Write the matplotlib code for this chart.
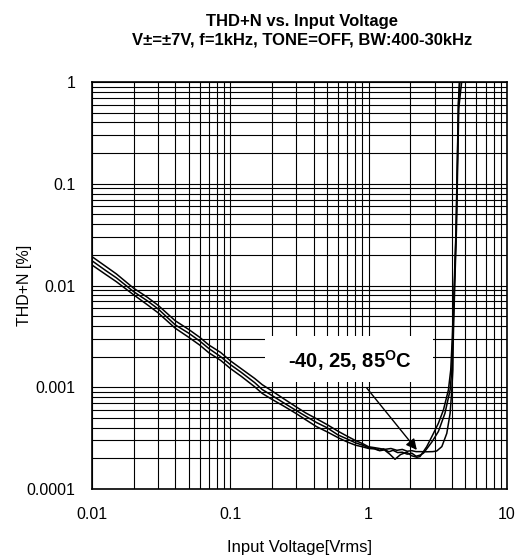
import matplotlib
matplotlib.use("Agg")
import matplotlib.pyplot as plt
from matplotlib.patches import Rectangle
from matplotlib.ticker import LogLocator, FixedLocator, FixedFormatter, NullFormatter

plt.rcParams['font.family'] = ['Liberation Sans', 'DejaVu Sans']
plt.rcParams['mathtext.fontset'] = 'custom'
plt.rcParams['mathtext.rm'] = 'Liberation Sans'
plt.rcParams['mathtext.bf'] = 'Liberation Sans:bold'

title = "THD+N vs. Input Voltage\nV±=±7V, f=1kHz, TONE=OFF, BW:400-30kHz"
xlabel = "Input Voltage[Vrms]"
ylabel = "THD+N [%]"
annotation = r"-40, 25, 85$^{\mathbf{O}}$C"

x_ticks = [0.01, 0.1, 1, 10]
x_ticklabels = ["0.01", "0.1", "1", "10"]
y_ticks = [0.0001, 0.001, 0.01, 0.1, 1]
y_ticklabels = ["0.0001", "0.001", "0.01", "0.1", "1"]

x_left = [0.01, 0.0125, 0.015, 0.02, 0.025, 0.03, 0.04, 0.05, 0.06, 0.07, 0.085,
          0.1, 0.12, 0.15, 0.17, 0.2, 0.24, 0.3, 0.35, 0.42, 0.5, 0.6, 0.7, 0.8, 0.9, 1.0]

# series A (upper trace at low level, rises last)
xA = x_left + [1.1, 1.2, 1.3, 1.45, 1.6, 1.75, 1.9, 2.05, 2.2, 2.35, 2.6, 2.9, 3.1,
               3.38, 3.67, 3.88, 3.99, 4.06, 4.09, 4.19, 4.31, 4.48, 4.8]
yA = [0.0192, 0.0155, 0.0130, 0.0094, 0.0077, 0.0064, 0.0045, 0.0037, 0.0031, 0.0026, 0.0022,
      0.00182, 0.00152, 0.00122, 0.00106, 0.00092, 0.00078, 0.00064, 0.00056, 0.00049, 0.00043,
      0.00037, 0.00033, 0.00030, 0.00028, 0.00026,
      0.000255, 0.00025, 0.000245, 0.00025, 0.00024, 0.000245, 0.000235, 0.000238, 0.000233,
      0.000233, 0.000232, 0.000233, 0.000236, 0.000261, 0.000352, 0.000555, 0.00094, 0.00148,
      0.003, 0.01, 0.035, 0.55, 1.3]

# series B (middle trace)
xB = x_left + [1.1, 1.2, 1.28, 1.4, 1.5, 1.62, 1.75, 1.9, 2.05, 2.2, 2.35, 2.49, 2.86,
               3.19, 3.56, 3.88, 3.99, 4.05, 4.17, 4.29, 4.46, 4.6]
yB = [0.0175, 0.0141, 0.0119, 0.0087, 0.0071, 0.0059, 0.0041, 0.0034, 0.00285, 0.0024, 0.0020,
      0.00167, 0.0014, 0.00111, 0.00095, 0.00083, 0.00071, 0.00059, 0.00052, 0.00045, 0.0004,
      0.00034, 0.00031, 0.000285, 0.00027, 0.000255,
      0.00025, 0.00024, 0.000248, 0.000232, 0.00024, 0.000228, 0.00023, 0.00022, 0.000225,
      0.00021, 0.000215, 0.000225, 0.000289, 0.000367, 0.000555, 0.00094, 0.00148, 0.003,
      0.01, 0.035, 0.62, 1.2]

# series C (lower trace at low level, rises first)
xC = x_left + [1.1, 1.2, 1.3, 1.42, 1.55, 1.7, 1.88, 2.05, 2.23, 2.35, 2.63, 2.94, 3.19,
               3.47, 3.77, 3.92, 4.02, 4.15, 4.28, 4.45, 4.55]
yC = [0.0159, 0.0129, 0.0109, 0.0081, 0.0065, 0.0054, 0.0038, 0.0031, 0.0026, 0.00218, 0.00184,
      0.00153, 0.00128, 0.00101, 0.00087, 0.00076, 0.00066, 0.00055, 0.00048, 0.00041, 0.000365,
      0.00032, 0.00029, 0.00027, 0.00026, 0.00025,
      0.000248, 0.000238, 0.000242, 0.00022, 0.000196, 0.000218, 0.00023, 0.000212, 0.000205,
      0.000208, 0.000261, 0.000352, 0.000442, 0.000597, 0.00094, 0.00148, 0.003, 0.01, 0.035,
      0.6, 1.2]

arrow_start = (0.97, 0.00098)
arrow_end = (2.23, 0.000242)
text_pos = (0.73, 0.00185)

fig = plt.figure(figsize=(5.19, 5.58), dpi=100)
ax = fig.add_axes([92/519, 1 - 489/558, 415/519, 407/558])
ax.set_xscale('log')
ax.set_yscale('log')
ax.set_xlim(0.01, 10)
ax.set_ylim(0.0001, 1)

ax.xaxis.set_major_locator(FixedLocator(x_ticks))
ax.xaxis.set_major_formatter(FixedFormatter(x_ticklabels))
ax.yaxis.set_major_locator(FixedLocator(y_ticks))
ax.yaxis.set_major_formatter(FixedFormatter(y_ticklabels))
ax.xaxis.set_minor_locator(LogLocator(base=10, subs=range(2, 10), numticks=20))
ax.yaxis.set_minor_locator(LogLocator(base=10, subs=range(2, 10), numticks=20))
ax.xaxis.set_minor_formatter(NullFormatter())
ax.yaxis.set_minor_formatter(NullFormatter())

ax.grid(True, which='both', color='black', linewidth=0.8)
ax.set_axisbelow(True)
ax.tick_params(which='both', length=0)
ax.tick_params(axis='x', pad=13, labelsize=11.5)
ax.tick_params(axis='y', pad=12, labelsize=11.5)
for s in ax.spines.values():
    s.set_linewidth(1.2)

ax.add_patch(Rectangle((0.417, 0.262), 0.405, 0.114, transform=ax.transAxes,
                       facecolor='white', edgecolor='none', zorder=1.5))

for xs, ys in ((xA, yA), (xB, yB), (xC, yC)):
    ax.plot(xs, ys, color='black', linewidth=1.1, zorder=3)

ax.annotate('', xy=arrow_end, xytext=arrow_start,
            arrowprops=dict(arrowstyle='-|>', color='black', lw=1.0,
                            mutation_scale=16, shrinkA=0, shrinkB=0), zorder=4)
ax.text(text_pos[0], text_pos[1], annotation, fontsize=14.5, fontweight='bold',
        ha='center', va='center', zorder=4)

ax.set_xlabel(xlabel, fontsize=12)
ax.set_ylabel(ylabel, fontsize=11.5)
ax.xaxis.set_label_coords(0.5, -0.125)
ax.yaxis.set_label_coords(-0.145, 0.5)

fig.text(302/519, 1 - 31/558, title, ha='center', va='center', fontsize=12,
         fontweight='bold', linespacing=1.3)

fig.savefig('out.png', dpi=100)
